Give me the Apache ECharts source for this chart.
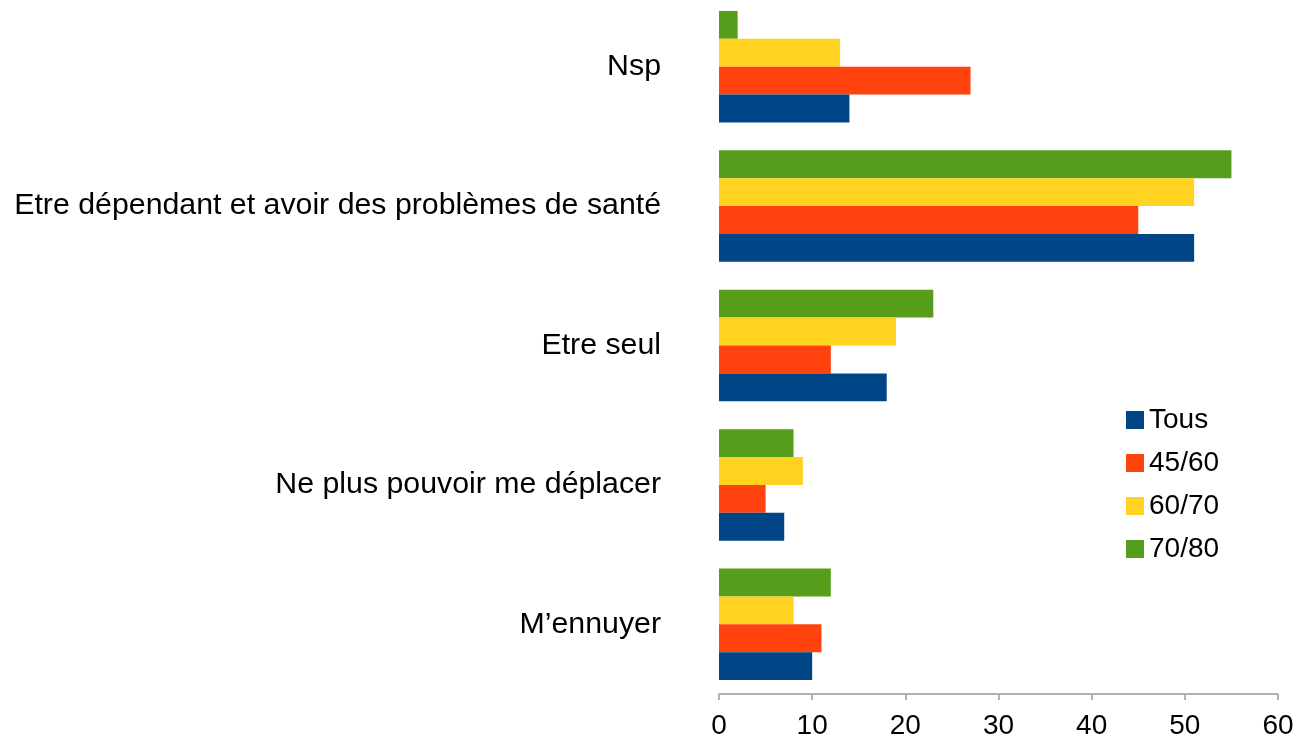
<!DOCTYPE html>
<html><head><meta charset="utf-8">
<script src="https://cdn.jsdelivr.net/npm/echarts@6/dist/echarts.min.js"></script>
<style>html,body{margin:0;padding:0;background:#fff;overflow:hidden}#c{width:1299px;height:745px;margin-top:-3px}</style>
</head><body><div id="c"></div>
<script>
const categories = ["M\u2019ennuyer", "Ne plus pouvoir me déplacer", "Etre seul", "Etre dépendant et avoir des problèmes de santé", "Nsp"];
const seriesNames = ["Tous", "45/60", "60/70", "70/80"];
const tous = [10, 7, 18, 51, 14];
const s4560 = [11, 5, 12, 45, 27];
const s6070 = [8, 9, 19, 51, 13];
const s7080 = [12, 8, 23, 55, 2];
const colors = ["#004586", "#ff420e", "#ffd320", "#579d1c"];
const values = [tous, s4560, s6070, s7080];

const chart = echarts.init(document.getElementById('c'));
// ECharts stacks bars top-down within a band; reverse so "Tous" sits at the bottom.
const order = [3, 2, 1, 0];
chart.setOption({
  animation: false,
  textStyle: { fontFamily: 'Liberation Sans, Arial, sans-serif' },
  grid: { left: 719, right: 21, top: 0, bottom: 48, containLabel: false },
  legend: {
    orient: 'vertical', left: 1121, top: 404, itemWidth: 18, itemHeight: 18, itemGap: 15,
    icon: 'rect',
    textStyle: { fontSize: 28, lineHeight: 28, color: '#000' },
    data: seriesNames
  },
  xAxis: {
    type: 'value', min: 0, max: 60, interval: 10,
    axisLine: { show: true, lineStyle: { color: '#b3b3b3', width: 2 } },
    axisTick: { show: true, length: 6, lineStyle: { color: '#b3b3b3', width: 2 } },
    splitLine: { show: false },
    axisLabel: { fontSize: 28, color: '#000', margin: 18 }
  },
  yAxis: {
    type: 'category', data: categories,
    axisLine: { show: false }, axisTick: { show: false },
    axisLabel: { fontSize: 30.3, color: '#000', margin: 58, padding: [3, 0, 0, 0] }
  },
  series: order.map(i => ({
    name: seriesNames[i], type: 'bar', data: values[i],
    itemStyle: { color: colors[i] },
    barGap: '0%', barCategoryGap: '20%'
  }))
});
</script></body></html>
